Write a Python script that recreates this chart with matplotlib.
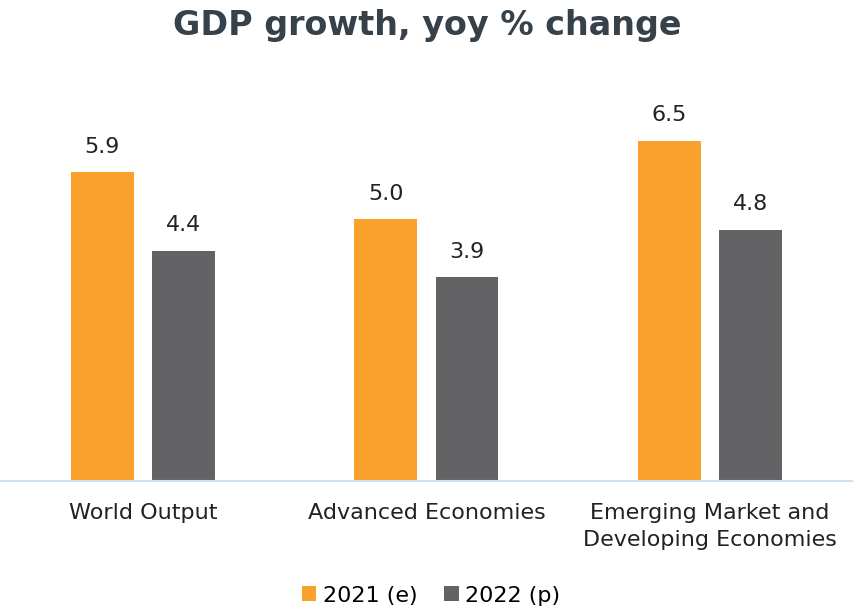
import matplotlib.pyplot as plt
import numpy as np

# Data
categories = ["World Output", "Advanced Economies", "Emerging Market and\nDeveloping Economies"]
series_names = ["2021 (e)", "2022 (p)"]
values_2021 = [5.9, 5.0, 6.5]
values_2022 = [4.4, 3.9, 4.8]

orange = "#F9A12B"
grey = "#636366"

plt.rcParams['font.family'] = ['DejaVu Sans']

fig = plt.figure(figsize=(8.54, 6.09), dpi=100)
ax = fig.add_axes([0, 128 / 609, 1, (481 - 60) / 609])

x = np.arange(len(categories))
w = 0.222
off = 0.143
b1 = ax.bar(x - off, values_2021, w, color=orange, label=series_names[0])
b2 = ax.bar(x + off, values_2022, w, color=grey, label=series_names[1])

for bars in (b1, b2):
    for rect in bars:
        ax.annotate(f"{rect.get_height():.1f}",
                    (rect.get_x() + rect.get_width() / 2, rect.get_height()),
                    xytext=(0, 11), textcoords="offset points",
                    ha="center", va="bottom", fontsize=16, color="#222222")

ax.set_xlim(-0.504, 2.508)
ax.set_ylim(0, 421 / 52.35)
ax.set_xticks(x)
ax.set_xticklabels(categories, fontsize=16, color="#222222", linespacing=1.4)
ax.tick_params(axis="x", length=0, pad=16)
ax.set_yticks([])
for s in ["top", "right", "left"]:
    ax.spines[s].set_visible(False)
ax.spines["bottom"].set_color("#c5e3f5")
ax.spines["bottom"].set_linewidth(1.5)

fig.text(0.5, 0.958, "GDP growth, yoy % change", ha="center", va="center",
         fontsize=24, fontweight="bold", color="#37414a")

fig.legend(loc="center", bbox_to_anchor=(0.505, 0.022), ncol=2, frameon=False,
           fontsize=16, handlelength=0.65, handleheight=0.65, handletextpad=0.3,
           columnspacing=1.2)

fig.savefig("out.png", dpi=100)
